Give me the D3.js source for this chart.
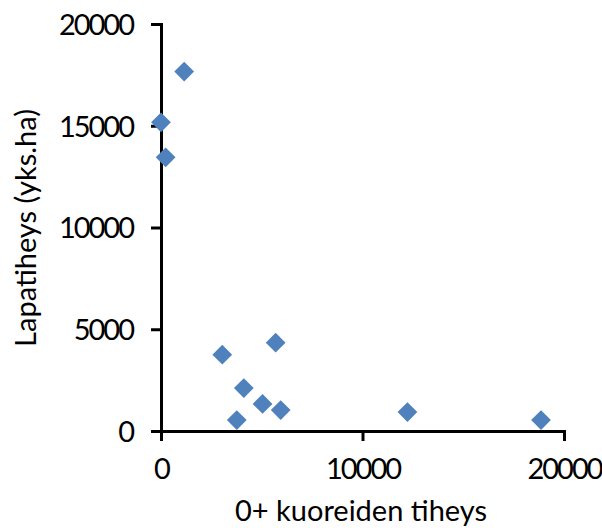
<!DOCTYPE html>
<html>
<head>
<meta charset="utf-8">
<script src="https://cdn.jsdelivr.net/npm/d3@7"></script>
<style>
  html, body { margin: 0; padding: 0; background: #fff; }
  svg { display: block; }
  text { font-family: Lato, "Open Sans", sans-serif; fill: #000; }
</style>
</head>
<body>
<svg id="chart" width="602" height="528"></svg>
<script>
// 0+ smelt density vs. shovel-nose density
const smeltDensity = [1150, 0, 230, 3040, 5690, 4110, 5040, 5940, 3760, 12230, 18860];
const shovelDensity = [17660, 15170, 13450, 3750, 4340, 2110, 1330, 1030, 540, 930, 540];
const xTicks = [0, 10000, 20000];
const yTicks = [0, 5000, 10000, 15000, 20000];
const xTitle = "0+ kuoreiden tiheys";
const yTitle = "Lapatiheys (yks.ha)";

const svg = d3.select("#chart");
const plotLeft = 161, plotRight = 564, plotTop = 24, plotBottom = 431;

const x = d3.scaleLinear().domain([0, 20000]).range([plotLeft, plotRight]);
const y = d3.scaleLinear().domain([0, 20000]).range([plotBottom, plotTop]);

const tickFont = 29, titleFont = 29;

// y axis
const yAxis = svg.append("g")
  .attr("transform", `translate(${plotLeft},0)`)
  .call(d3.axisLeft(y).tickValues(yTicks).tickFormat(d3.format("d")).tickSize(10).tickPadding(18));
// x axis
const xAxis = svg.append("g")
  .attr("transform", `translate(0,${plotBottom})`)
  .call(d3.axisBottom(x).tickValues(xTicks).tickFormat(d3.format("d")).tickSize(10).tickPadding(17));

[xAxis, yAxis].forEach(g => {
  g.select(".domain").attr("stroke", "#000").attr("stroke-width", 3);
  g.selectAll(".tick line").attr("stroke", "#000").attr("stroke-width", 3);
  g.selectAll(".tick text")
    .style("font-size", tickFont + "px")
    .style("font-family", "Lato, sans-serif")
    .style("letter-spacing", "-2px")
    .attr("fill", "#000");
});
yAxis.selectAll(".tick text").attr("dy", "0.36em");

// diamond markers
svg.append("g").selectAll("path")
  .data(smeltDensity.map((v, i) => [v, shovelDensity[i]]))
  .join("path")
  .attr("d", d3.symbol().type(d3.symbolSquare).size(195))
  .attr("transform", d => `translate(${x(d[0])},${y(d[1])}) rotate(45)`)
  .attr("fill", "#4F81BD");

// axis titles
svg.append("text")
  .attr("x", 361)
  .attr("y", 521)
  .attr("text-anchor", "middle")
  .style("font-size", titleFont + "px")
  .text(xTitle);

svg.append("text")
  .attr("transform", `translate(36,228) rotate(-90)`)
  .attr("text-anchor", "middle")
  .style("font-size", titleFont + "px")
  .text(yTitle);
</script>
</body>
</html>
